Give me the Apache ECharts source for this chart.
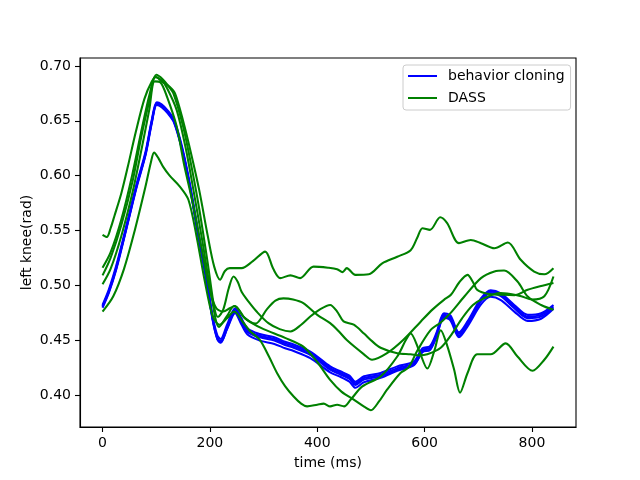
<!DOCTYPE html>
<html>
<head>
<meta charset="utf-8">
<script src="https://cdn.jsdelivr.net/npm/echarts@6/dist/echarts.min.js"></script>
<style>html,body{margin:0;padding:0;background:#fff}#chart{width:640px;height:480px}</style>
</head>
<body>
<div id="chart"></div>
<script>
// Tick labels
var timeTicks = [0, 200, 400, 600, 800];
var valueTicks = [0.40, 0.45, 0.50, 0.55, 0.60, 0.65, 0.70];
var seriesNames = ['behavior cloning', 'DASS'];

// behavior cloning runs: [time ms, left knee rad]
var bcRun1 = [[0,0.481],[12,0.495],[25,0.515],[38,0.54],[48,0.56],[63,0.59],[80,0.62],[92,0.65],[101,0.666],[110,0.664],[122,0.658],[133,0.65],[148,0.625],[163,0.59],[177,0.55],[192,0.51],[205,0.47],[214,0.452],[220,0.449],[232,0.462],[247,0.4776],[258,0.469],[270,0.459],[293,0.454],[320,0.451],[340,0.447],[356,0.4445],[387,0.438],[424,0.4244],[443,0.42],[460,0.416],[471,0.4105],[487,0.4153],[518,0.4183],[549,0.4244],[580,0.4289],[596,0.441],[610,0.443],[622,0.455],[636,0.473],[648,0.471],[664,0.4555],[680,0.4654],[705,0.4867],[723,0.4943],[742,0.4913],[767,0.4806],[792,0.4715],[817,0.473],[840,0.4806]];
var bcRun2 = [[0,0.482],[12,0.4965],[25,0.517],[38,0.5415],[48,0.5615],[63,0.5915],[80,0.6215],[92,0.6515],[101,0.667],[110,0.665],[122,0.659],[133,0.651],[148,0.6265],[163,0.5915],[177,0.552],[192,0.512],[205,0.472],[214,0.454],[220,0.451],[232,0.464],[247,0.479],[258,0.4705],[270,0.4605],[293,0.4555],[320,0.4525],[340,0.4485],[356,0.446],[387,0.4395],[424,0.426],[443,0.4215],[460,0.4175],[471,0.412],[487,0.417],[518,0.42],[549,0.426],[580,0.4305],[596,0.4425],[610,0.4445],[622,0.4565],[636,0.4745],[648,0.4725],[664,0.457],[680,0.467],[705,0.488],[723,0.4955],[742,0.4925],[767,0.482],[792,0.473],[817,0.4745],[840,0.482]];
var bcRun3 = [[0,0.4795],[12,0.4935],[25,0.5135],[38,0.5385],[48,0.5585],[63,0.5885],[80,0.6185],[92,0.6485],[101,0.6645],[110,0.6625],[122,0.6565],[133,0.6485],[148,0.6235],[163,0.5885],[177,0.5485],[192,0.5085],[205,0.4685],[214,0.4505],[220,0.4475],[232,0.4605],[247,0.476],[258,0.4675],[270,0.4575],[293,0.4525],[320,0.4495],[340,0.4455],[356,0.443],[387,0.4365],[424,0.423],[443,0.4185],[460,0.4145],[471,0.409],[487,0.414],[518,0.417],[549,0.423],[580,0.4275],[596,0.4395],[610,0.4415],[622,0.4535],[636,0.4715],[648,0.4695],[664,0.454],[680,0.464],[705,0.4855],[723,0.493],[742,0.49],[767,0.479],[792,0.470],[817,0.4715],[840,0.479]];
var bcRun4 = [[0,0.4805],[12,0.4945],[25,0.5145],[38,0.5395],[48,0.5595],[63,0.5895],[80,0.6195],[92,0.6495],[101,0.6655],[110,0.6635],[122,0.6575],[133,0.6495],[148,0.6245],[163,0.5895],[177,0.5495],[192,0.5095],[205,0.4695],[214,0.451],[220,0.448],[232,0.46],[247,0.4745],[258,0.465],[270,0.455],[293,0.4495],[320,0.4465],[340,0.4425],[356,0.44],[387,0.4335],[424,0.4205],[443,0.4165],[460,0.412],[471,0.4065],[487,0.4115],[518,0.4155],[549,0.422],[580,0.427],[596,0.439],[610,0.441],[622,0.453],[636,0.4705],[648,0.468],[664,0.4525],[680,0.4625],[705,0.4825],[723,0.4895],[742,0.4865],[767,0.476],[792,0.4675],[817,0.4695],[840,0.4785]];

// DASS runs
var dassRun1 = [[0,0.546],[8,0.544],[15,0.552],[22,0.563],[35,0.584],[47,0.608],[62,0.64],[78,0.67],[92,0.686],[100,0.690],[110,0.686],[125,0.681],[135,0.675],[150,0.65],[165,0.62],[180,0.587],[196,0.545],[208,0.517],[219,0.505],[228,0.513],[237,0.5156],[259,0.5156],[280,0.522],[303,0.5307],[318,0.515],[331,0.5065],[350,0.509],[368,0.5065],[393,0.517],[420,0.516],[437,0.5147],[447,0.512],[455,0.5156],[471,0.5095],[496,0.510],[521,0.520],[549,0.526],[574,0.532],[586,0.543],[596,0.552],[610,0.5505],[629,0.562],[642,0.5566],[664,0.5384],[686,0.5413],[705,0.5384],[730,0.5338],[755,0.539],[779,0.5232],[804,0.5125],[823,0.510],[840,0.5156]];
var dassRun2 = [[0,0.516],[15,0.53],[35,0.56],[55,0.60],[72,0.64],[88,0.675],[100,0.692],[112,0.688],[122,0.682],[132,0.675],[150,0.645],[165,0.61],[180,0.57],[196,0.52],[208,0.48],[215,0.471],[225,0.478],[235,0.497],[244,0.508],[252,0.503],[259,0.494],[272,0.485],[287,0.476],[309,0.4654],[330,0.46],[350,0.4578],[370,0.464],[387,0.4715],[405,0.478],[424,0.482],[437,0.476],[449,0.467],[468,0.464],[487,0.456],[502,0.449],[518,0.443],[549,0.438],[574,0.437],[590,0.436],[605,0.437],[630,0.443],[650,0.455],[670,0.47],[690,0.482],[710,0.488],[740,0.493],[760,0.492],[780,0.49],[800,0.487],[823,0.49],[840,0.508]];
var dassRun3 = [[0,0.509],[15,0.525],[35,0.555],[56,0.595],[72,0.635],[88,0.67],[98,0.690],[110,0.687],[120,0.68],[138,0.66],[155,0.625],[170,0.585],[186,0.54],[203,0.49],[217,0.462],[232,0.472],[245,0.481],[255,0.477],[265,0.47],[285,0.465],[306,0.478],[322,0.486],[337,0.488],[355,0.487],[374,0.4837],[400,0.473],[424,0.4654],[440,0.458],[455,0.45],[487,0.437],[502,0.432],[530,0.438],[560,0.45],[593,0.467],[615,0.478],[636,0.4867],[649,0.4913],[665,0.503],[680,0.5095],[690,0.503],[698,0.4958],[720,0.492],[745,0.4913],[767,0.491],[792,0.4958],[815,0.499],[840,0.502]];
var dassRun4 = [[0,0.501],[15,0.515],[35,0.545],[56,0.585],[73,0.625],[87,0.66],[97,0.686],[108,0.685],[120,0.672],[138,0.645],[152,0.61],[168,0.575],[186,0.53],[200,0.495],[212,0.479],[225,0.476],[237,0.479],[247,0.481],[262,0.4715],[280,0.465],[300,0.46],[340,0.452],[374,0.444],[400,0.43],[424,0.4137],[445,0.403],[470,0.395],[488,0.389],[500,0.386],[515,0.394],[530,0.4047],[555,0.42],[570,0.425],[586,0.44],[611,0.459],[630,0.466],[649,0.475],[674,0.4897],[705,0.5065],[730,0.5125],[748,0.5134],[773,0.5034],[792,0.4897],[817,0.482],[840,0.4776]];
var dassRun5 = [[0,0.476],[20,0.49],[40,0.515],[60,0.55],[80,0.59],[90,0.612],[96,0.621],[104,0.616],[113,0.608],[125,0.60],[144,0.59],[160,0.578],[175,0.545],[190,0.505],[205,0.472],[218,0.464],[232,0.47],[245,0.476],[262,0.466],[275,0.458],[293,0.4502],[310,0.435],[325,0.42],[340,0.408],[356,0.3985],[370,0.392],[381,0.3895],[400,0.391],[412,0.392],[424,0.3895],[437,0.391],[450,0.3895],[462,0.3955],[484,0.4077],[518,0.4168],[549,0.435],[565,0.45],[574,0.456],[590,0.44],[605,0.424],[618,0.44],[630,0.459],[642,0.445],[655,0.423],[666,0.402],[680,0.42],[698,0.437],[723,0.437],[751,0.447],[773,0.435],[801,0.422],[823,0.432],[840,0.444]];

var bcRuns = [bcRun1, bcRun2, bcRun3, bcRun4];
var dassRuns = [dassRun1, dassRun2, dassRun3, dassRun4, dassRun5];

var FONT = 'DejaVu Sans';
var LW = 2.08;
var series = [];
bcRuns.forEach(function (d) {
  series.push({ name: seriesNames[0], type: 'line', data: d, symbol: 'none', smooth: 0.3,
    lineStyle: { color: '#0000ff', width: LW }, itemStyle: { color: '#0000ff' } });
});
dassRuns.forEach(function (d) {
  series.push({ name: seriesNames[1], type: 'line', data: d, symbol: 'none', smooth: 0.3,
    lineStyle: { color: '#008000', width: LW }, itemStyle: { color: '#008000' } });
});

var chart = echarts.init(document.getElementById('chart'), null, { renderer: 'canvas' });
chart.setOption({
  animation: false,
  backgroundColor: '#ffffff',
  grid: { left: 80, right: 64, top: 58, bottom: 53, show: true, borderColor: '#000', borderWidth: 1.1, backgroundColor: 'transparent' },
  legend: {
    data: seriesNames, orient: 'vertical', left: 403, top: 65,
    icon: 'rect', itemWidth: 29, itemHeight: 2, itemGap: 8,
    padding: [4, 6, 5, 5],
    backgroundColor: 'rgba(255,255,255,0.8)', borderColor: '#cccccc', borderWidth: 1, borderRadius: 3,
    textStyle: { fontFamily: FONT, fontSize: 14, color: '#000', padding: [0, 0, 0, 6] }
  },
  xAxis: {
    type: 'value', min: -42, max: 882,
    name: 'time (ms)', nameLocation: 'middle', nameGap: 29, nameMoveOverlap: false,
    nameTextStyle: { fontFamily: FONT, fontSize: 14, color: '#000' },
    axisLine: { show: true, onZero: false, lineStyle: { color: '#000', width: 1.1 } },
    axisTick: { show: true, length: 5, customValues: timeTicks, lineStyle: { color: '#000', width: 1.1 } },
    axisLabel: { customValues: timeTicks, margin: 9, fontFamily: FONT, fontSize: 14, color: '#000' },
    splitLine: { show: false }
  },
  yAxis: {
    type: 'value', min: 0.3707, max: 0.7073,
    name: 'left knee(rad)', nameLocation: 'middle', nameGap: 46, nameRotate: 90, nameMoveOverlap: false,
    nameTextStyle: { fontFamily: FONT, fontSize: 14, color: '#000' },
    axisLine: { show: true, onZero: false, lineStyle: { color: '#000', width: 1.1 } },
    axisTick: { show: true, length: 5, customValues: valueTicks, lineStyle: { color: '#000', width: 1.1 } },
    axisLabel: { customValues: valueTicks, margin: 9, fontFamily: FONT, fontSize: 14, color: '#000',
      formatter: function (v) { return v.toFixed(2); } },
    splitLine: { show: false }
  },
  series: series
});
</script>
</body>
</html>
